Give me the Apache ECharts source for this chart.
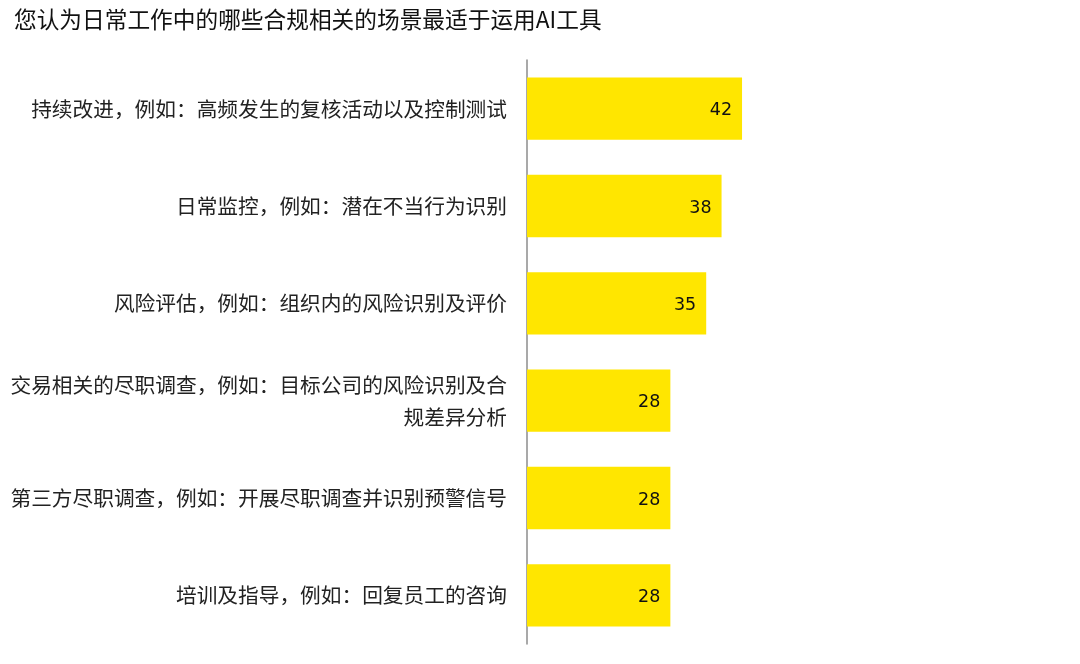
<!DOCTYPE html>
<html>
<head>
<meta charset="utf-8">
<script src="https://cdn.jsdelivr.net/npm/echarts@6/dist/echarts.min.js"></script>
<style>
html, body { margin: 0; padding: 0; background: #fff; }
#main { width: 1080px; height: 664px; }
</style>
</head>
<body>
<div id="main"></div>
<script>
var titleText = "您认为日常工作中的哪些合规相关的场景最适于运用AI工具";
// 从上到下的场景
var categories = [
    "持续改进，例如：高频发生的复核活动以及控制测试",
    "日常监控，例如：潜在不当行为识别",
    "风险评估，例如：组织内的风险识别及评价",
    "交易相关的尽职调查，例如：目标公司的风险识别及合\n规差异分析",
    "第三方尽职调查，例如：开展尽职调查并识别预警信号",
    "培训及指导，例如：回复员工的咨询"
];
var values = [42, 38, 35, 28, 28, 28];

var chart = echarts.init(document.getElementById('main'));
var option = {
    backgroundColor: '#ffffff',
    animation: false,
    title: {
        text: titleText,
        left: 14,
        top: 8,
        padding: 0,
        textStyle: {
            fontFamily: 'Noto Sans CJK SC',
            fontSize: 22.7,
            fontWeight: 'normal',
            color: '#111'
        }
    },
    grid: {
        left: 527,
        right: 41,
        top: 60,
        bottom: 20,
        containLabel: false
    },
    xAxis: {
        type: 'value',
        min: 0,
        max: 100,
        show: false
    },
    yAxis: {
        type: 'category',
        inverse: true,
        data: categories,
        axisLine: { show: true, lineStyle: { color: '#8c8c8c', width: 1.5 } },
        axisTick: { show: false },
        axisLabel: {
            margin: 20,
            fontFamily: 'Noto Sans CJK SC',
            fontSize: 20.7,
            color: '#222',
            lineHeight: 32,
            align: 'right'
        }
    },
    series: [
        {
            type: 'bar',
            data: values,
            barCategoryGap: '36%',
            itemStyle: { color: '#ffe600' },
            label: {
                show: true,
                position: 'insideRight',
                distance: 10,
                offset: [0, 2],
                fontFamily: 'DejaVu Sans',
                fontSize: 17.5,
                color: '#111'
            }
        }
    ]
};
chart.setOption(option);
</script>
</body>
</html>
